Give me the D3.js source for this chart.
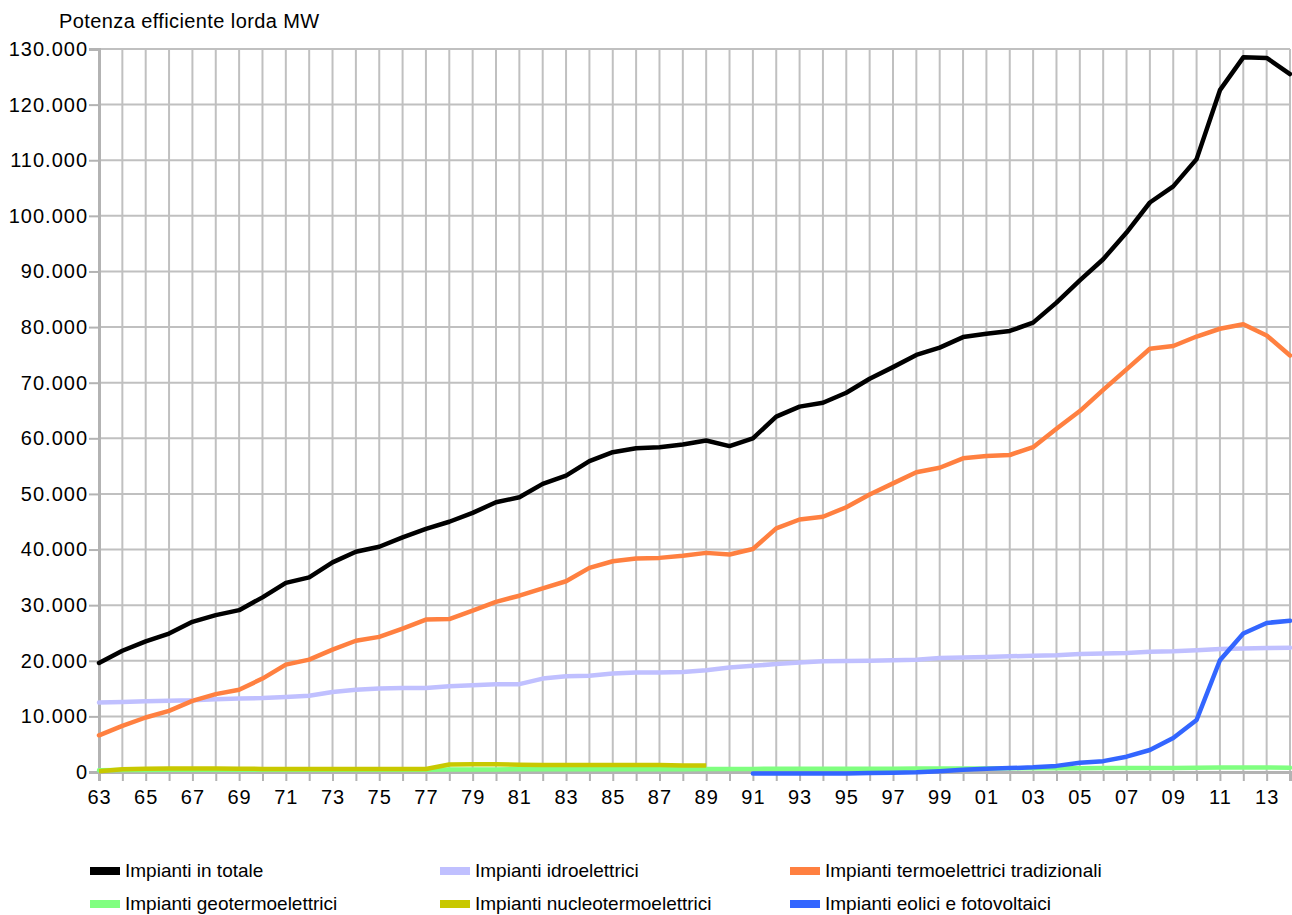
<!DOCTYPE html>
<html>
<head>
<meta charset="utf-8">
<script src="https://cdn.jsdelivr.net/npm/d3@7"></script>
<style>
  body { margin: 0; background: #fff; }
  text { font-family: "Liberation Sans", Arial, sans-serif; fill: #000; }
</style>
</head>
<body>
<div id="chart"></div>
<script>
var years = d3.range(1963, 2015);

var totale = [19600, 21800, 23500, 24900, 27000, 28200, 29100, 31400, 34000, 35000,
  37700, 39600, 40500, 42200, 43700, 45000, 46600, 48500, 49400, 51800,
  53300, 55900, 57500, 58200, 58400, 58900, 59600, 58600, 60000, 63900,
  65700, 66400, 68200, 70700, 72800, 75000, 76300, 78200, 78800, 79300,
  80800, 84400, 88400, 92200, 97000, 102400, 105300, 110200, 122600, 128500,
  128400, 125500];

var idro = [12500, 12600, 12700, 12800, 12900, 13100, 13200, 13300, 13500, 13700,
  14400, 14800, 15000, 15100, 15100, 15400, 15600, 15800, 15800, 16800,
  17200, 17300, 17700, 17900, 17900, 18000, 18300, 18800, 19100, 19400,
  19700, 19900, 19950, 20000, 20100, 20200, 20500, 20600, 20700, 20800,
  20900, 21000, 21200, 21300, 21400, 21600, 21700, 21900, 22100, 22200,
  22300, 22350];

var termo = [6600, 8300, 9800, 11000, 12800, 14000, 14800, 16800, 19300, 20200,
  22000, 23600, 24300, 25800, 27400, 27500, 29000, 30600, 31700, 33000,
  34300, 36700, 37900, 38400, 38500, 38900, 39400, 39100, 40100, 43800,
  45400, 45900, 47600, 49900, 51900, 53900, 54700, 56400, 56800, 57000,
  58400, 61700, 64900, 68700, 72400, 76100, 76600, 78300, 79700, 80500,
  78500, 74900];

var geo = [300, 350, 380, 390, 400, 400, 400, 400, 400, 410,
  410, 410, 420, 420, 420, 450, 460, 470, 480, 480,
  480, 490, 490, 500, 500, 500, 520, 560, 560, 570,
  580, 580, 590, 590, 600, 610, 620, 640, 650, 660,
  670, 680, 690, 700, 710, 720, 730, 780, 800, 800,
  790, 780];

// nucleare fino all'89, eolico/fotovoltaico dal '91
var nucleo = [150, 500, 600, 650, 650, 650, 600, 560, 550, 550,
  550, 550, 550, 550, 550, 1350, 1400, 1400, 1300, 1270,
  1270, 1270, 1270, 1270, 1270, 1150, 1150, null, null, null,
  null, null, null, null, null, null, null, null, null, null,
  null, null, null, null, null, null, null, null, null, null,
  null, null];

var eolici = [null, null, null, null, null, null, null, null, null, null,
  null, null, null, null, null, null, null, null, null, null,
  null, null, null, null, null, null, null, null, -250, -250,
  -250, -250, -250, -200, -150, -50, 150, 400, 600, 700,
  850, 1100, 1650, 1950, 2750, 3950, 6100, 9350, 20100, 24900,
  26800, 27200];

var seriesNames = ["Impianti in totale", "Impianti idroelettrici", "Impianti termoelettrici tradizionali",
  "Impianti geotermoelettrici", "Impianti nucleotermoelettrici", "Impianti eolici e fotovoltaici"];
var seriesColors = ["#000000", "#c0c0ff", "#ff8040", "#80ff80", "#c8c800", "#3366ff"];
var seriesValues = [totale, idro, termo, geo, nucleo, eolici];

var yTicks = d3.range(0, 130001, 10000);

var svgwidth = 1292, svgheight = 915;
var margin = {top: 49, right: 2, bottom: 143, left: 99},
    width = svgwidth - margin.left - margin.right,
    height = svgheight - margin.top - margin.bottom;

var it = d3.formatLocale({decimal: ",", thousands: ".", grouping: [3], currency: ["", "€"]});
var fmt = it.format(",.0f");

var x = d3.scaleLinear().domain([1963, 2014]).range([0, width]);
var y = d3.scaleLinear().domain([0, 130000]).range([height, 0]);

var svg = d3.select("#chart").append("svg")
    .attr("width", svgwidth)
    .attr("height", svgheight)
  .append("g")
    .attr("transform", "translate(" + margin.left + "," + margin.top + ")");

// griglia
svg.append("g").selectAll("line")
    .data(years)
  .enter().append("line")
    .attr("x1", d => x(d)).attr("x2", d => x(d))
    .attr("y1", 0).attr("y2", height)
    .style("stroke", "#c0c0c0").style("stroke-width", 2);

svg.append("g").selectAll("line")
    .data(yTicks)
  .enter().append("line")
    .attr("x1", 0).attr("x2", width)
    .attr("y1", d => y(d)).attr("y2", d => y(d))
    .style("stroke", "#c0c0c0").style("stroke-width", 2);

var xAxis = d3.axisBottom(x).tickValues(years).tickSize(9).tickPadding(9)
    .tickFormat(d => d % 2 === 1 ? String(d).slice(2) : "");
var yAxis = d3.axisLeft(y).tickValues(yTicks).tickSize(10).tickPadding(1).tickFormat(fmt);

var gx = svg.append("g")
    .attr("transform", "translate(0," + height + ")")
    .call(xAxis);
var gy = svg.append("g").call(yAxis);

[gx, gy].forEach(function(g) {
  g.select(".domain").style("stroke", "#b3b3b3").style("stroke-width", 3);
  g.selectAll(".tick line").style("stroke", "#b3b3b3").style("stroke-width", 2);
  g.selectAll("text")
    .style("font-family", "'Liberation Sans', Arial, sans-serif")
    .style("font-size", "20px")
    .style("letter-spacing", "1px")
    .style("fill", "#000");
});

svg.append("text")
    .attr("x", -40)
    .attr("y", -21)
    .style("font-size", "20px")
    .style("letter-spacing", "0.4px")
    .text("Potenza efficiente lorda MW");

var line = d3.line()
    .defined(d => d != null)
    .x((d, i) => x(years[i]))
    .y(d => y(d));

svg.selectAll(".serie")
    .data(seriesValues)
  .enter().append("path")
    .attr("class", "serie")
    .attr("d", line)
    .style("fill", "none")
    .style("stroke", (d, i) => seriesColors[i])
    .style("stroke-width", 4.5)
    .style("stroke-linejoin", "round")
    .style("stroke-linecap", (d, i) => i === 4 ? "butt" : "round");

// legenda
var legend = svg.append("g")
    .attr("transform", "translate(0," + (height + 99) + ")");

var item = legend.selectAll("g")
    .data(seriesNames)
  .enter().append("g")
    .attr("transform", (d, i) => "translate(" + (-9 + (i % 3) * 350) + "," + (Math.floor(i / 3) * 33) + ")");

item.append("rect")
    .attr("x", 0).attr("y", -4)
    .attr("width", 30).attr("height", 8)
    .style("fill", (d, i) => seriesColors[i]);

item.append("text")
    .attr("x", 35)
    .attr("y", 6)
    .style("font-size", "19px")
    .text(d => d);
</script>
</body>
</html>
